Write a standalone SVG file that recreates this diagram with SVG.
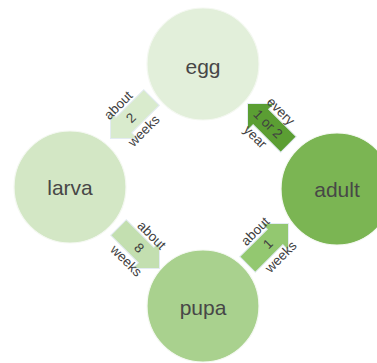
<svg xmlns="http://www.w3.org/2000/svg" width="377" height="363" viewBox="0 0 377 363">
<defs>
<style>
.node{stroke:#f4f8f1;stroke-width:1.2}
.lbl{font-family:"Liberation Sans",Arial,sans-serif;font-size:21px;fill:#474747;text-anchor:middle;dominant-baseline:central}
.al{font-family:"Liberation Sans",Arial,sans-serif;font-size:13.5px;fill:#404040;text-anchor:middle;dominant-baseline:central}
.arr{stroke:#e3ebf2;stroke-width:1}
</style>
<path id="arrow" d="M-29,-11 L10,-11 L10,-19 L29,0 L10,19 L10,11 L-29,11 Z"/>
</defs>
<rect width="377" height="363" fill="#ffffff"/>
<g id="connectors">
<g id="egg-larva">
<use href="#arrow" class="arr" fill="#d9ebcd" transform="translate(131,118) rotate(135)"/>
<g transform="translate(131,118) rotate(-45)">
<text class="al" x="0" y="-18">about</text>
<text class="al" x="0" y="0">2</text>
<text class="al" x="0" y="18">weeks</text>
</g>
</g>
<g id="larva-pupa">
<use href="#arrow" class="arr" fill="#c3dfb0" transform="translate(139,248) rotate(45)"/>
<g transform="translate(139,248) rotate(45)">
<text class="al" x="0" y="-18">about</text>
<text class="al" x="0" y="0">8</text>
<text class="al" x="0" y="18">weeks</text>
</g>
</g>
<g id="pupa-adult">
<use href="#arrow" class="arr" fill="#93c870" transform="translate(268,244) rotate(-45)"/>
<g transform="translate(268,244) rotate(-45)">
<text class="al" x="0" y="-18">about</text>
<text class="al" x="0" y="0">1</text>
<text class="al" x="0" y="18">weeks</text>
</g>
</g>
<g id="adult-egg">
<use href="#arrow" class="arr" fill="#5b9e33" transform="translate(268,124) rotate(-135)"/>
<g transform="translate(268,124) rotate(45)">
<text class="al" x="0" y="-18">every</text>
<text class="al" x="0" y="0">1 or 2</text>
<text class="al" x="0" y="18">year</text>
</g>
</g>
</g>
<g id="egg">
<circle class="node" cx="203" cy="64" r="56" fill="#e2efda"/>
<text class="lbl" x="203" y="66">egg</text>
</g>
<g id="larva">
<circle class="node" cx="70" cy="187" r="56" fill="#d3e7c5"/>
<text class="lbl" x="70" y="187">larva</text>
</g>
<g id="pupa">
<circle class="node" cx="203" cy="306" r="56" fill="#a9d18e"/>
<text class="lbl" x="203" y="307">pupa</text>
</g>
<g id="adult">
<circle class="node" cx="337" cy="189" r="56" fill="#7bb553"/>
<text class="lbl" x="337" y="189">adult</text>
</g>
</svg>
